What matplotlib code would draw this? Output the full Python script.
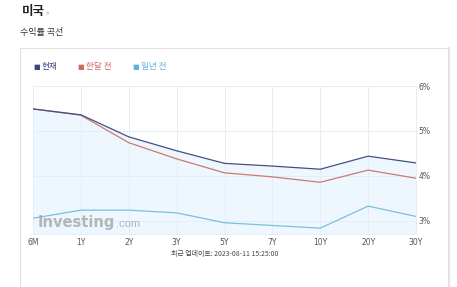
import numpy as np
import matplotlib
matplotlib.use("Agg")
from matplotlib import pyplot as plt
from matplotlib.lines import Line2D

plt.rcParams['font.family'] = ['Noto Sans CJK KR', 'DejaVu Sans']

tenors = ['6M', '1Y', '2Y', '3Y', '5Y', '7Y', '10Y', '20Y', '30Y']
current = [5.49, 5.36, 4.87, 4.56, 4.28, 4.22, 4.15, 4.44, 4.29]
month_ago = [5.49, 5.35, 4.74, 4.38, 4.07, 3.98, 3.86, 4.13, 3.95]
year_ago = [3.06, 3.24, 3.24, 3.18, 2.96, 2.90, 2.84, 3.33, 3.10]
y_ticks = [3, 4, 5, 6]
series_names = ['현재', '한달 전', '일년 전']
colors = ['#444f86', '#cc7a72', '#7cbfe0']
legend_colors = ['#3d4684', '#cf6a60', '#5fb2dd']

W, H = 457, 287
fig = plt.figure(figsize=(W / 100, H / 100), dpi=100)

# card border
border = '#e2e2e2'
fig.add_artist(Line2D([20 / W, 449 / W], [1 - 48 / H, 1 - 48 / H], color=border, lw=0.8))
fig.add_artist(Line2D([20 / W, 20 / W], [1 - 48 / H, 0], color=border, lw=0.8))
fig.add_artist(Line2D([449 / W, 449 / W], [1 - 48 / H, 0], color=border, lw=1.5))

fig.text(22 / W, 1 - 12 / H, '미국', fontsize=9, fontweight='bold', color='#222222', va='center')
fig.text(46 / W, 1 - 13 / H, '»', fontsize=5, color='#999999', va='center')
fig.text(20 / W, 1 - 33 / H, '수익률 곡선', fontsize=6.5, color='#333333', va='center')

# legend
lx = [33, 77, 132]
for x, name, c in zip(lx, series_names, legend_colors):
    fig.text(x / W, 1 - 67 / H, '■', fontsize=5, color=c, va='center', family='DejaVu Sans')
    fig.text((x + 9) / W, 1 - 67 / H, name, fontsize=6.2, color=c, va='center')

ax = fig.add_axes([33 / W, 1 - 234 / H, 383 / W, 148 / H])
x = np.arange(len(tenors))
ax.fill_between(x, current, 2.71, color='#eef7fe', zorder=1)
ax.plot(x, year_ago, color=colors[2], lw=0.9, zorder=3)
ax.plot(x, month_ago, color=colors[1], lw=0.9, zorder=3)
ax.plot(x, current, color=colors[0], lw=0.9, zorder=4)

ax.set_xlim(0, len(tenors) - 1)
ax.set_ylim(2.71, 6)
ax.set_xticks(x)
ax.set_xticklabels(tenors)
ax.set_yticks(y_ticks)
ax.set_yticklabels([f'{v}%' for v in y_ticks])
ax.yaxis.tick_right()
ax.tick_params(length=0, labelsize=5.5, labelcolor='#555555', pad=3)
ax.tick_params(axis='y', pad=2)
for lab in ax.get_xticklabels() + ax.get_yticklabels():
    lab.set_family('DejaVu Sans')
ax.grid(True, color='#e4edf8', lw=0.7, zorder=0)
for s in ax.spines.values():
    s.set_color('#e4edf8')
    s.set_linewidth(0.7)

# watermark
wm = fig.text(38 / W, 1 - 223 / H, 'Investing', fontsize=10.5, fontweight='bold',
              color='#a0a0a0', alpha=0.75, va='center', family='Liberation Sans Narrow')
fig.canvas.draw()
bb = wm.get_window_extent()
fig.text(bb.x1 / W + 1 / W, 1 - 224 / H, '.com', fontsize=8, color='#a0a0a0', alpha=0.75,
         va='center', family='Liberation Sans')

fig.text(225 / W, 1 - 254 / H, '최근 업데이트: 2023-08-11 15:25:00', fontsize=5, color='#444444',
         ha='center', va='center')

fig.savefig('out.png', dpi=100, facecolor='white')
